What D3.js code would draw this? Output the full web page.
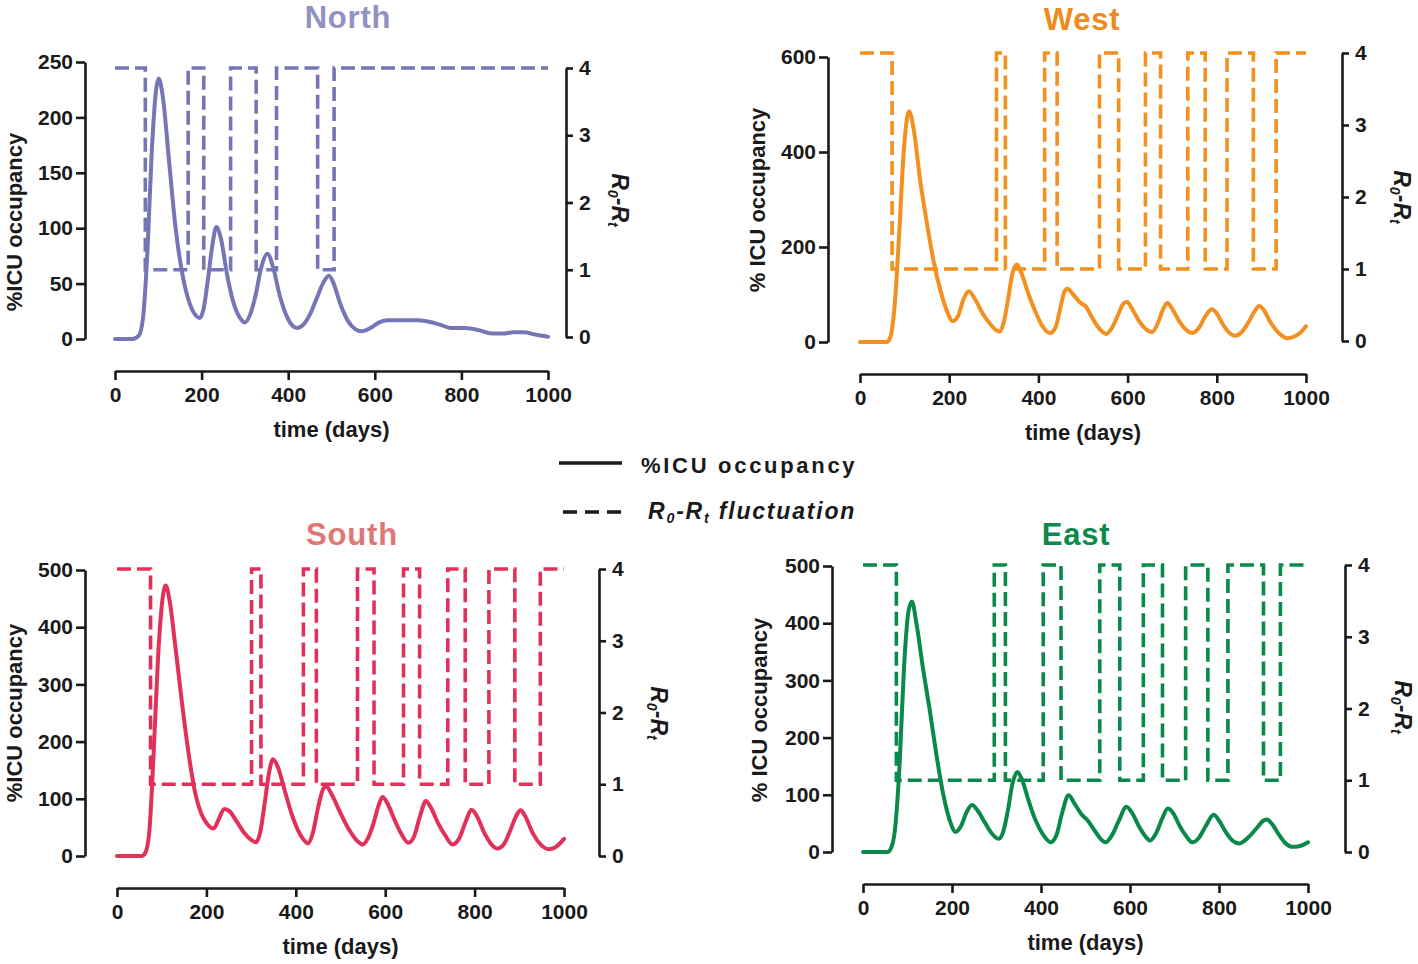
<!DOCTYPE html>
<html>
<head>
<meta charset="utf-8">
<script src="https://cdn.jsdelivr.net/npm/d3@7"></script>
<style>
  html, body { margin: 0; padding: 0; background: #fff; }
  svg { display: block; }
  text { font-family: "Liberation Sans", Arial, Helvetica, sans-serif; font-weight: bold; fill: #1a1a1a; }
</style>
</head>
<body>
<svg id="chart" width="1418" height="964"></svg>
<script>
// ---------------- DATA ----------------
const xTicks = [0, 200, 400, 600, 800, 1000];
const rTicks = [0, 1, 2, 3, 4];

const northTicks = [0, 50, 100, 150, 200, 250];
const westTicks  = [0, 200, 400, 600];
const southTicks = [0, 100, 200, 300, 400, 500];
const eastTicks  = [0, 100, 200, 300, 400, 500];

// %ICU occupancy [day, value]
const northIcu = [[0,0],[40,0],[55,3],[65,20],[75,80],[85,170],[95,225],[101,235],[110,220],[125,160],[140,100],[155,60],[170,35],[185,22],[196,19],[205,28],[215,55],[225,85],[234,101],[245,90],[258,60],[272,35],[287,20],[300,15],[312,22],[325,40],[338,65],[352,77],[365,65],[380,40],[395,22],[410,12],[420,10],[435,13],[450,22],[465,36],[480,50],[494,57],[505,50],[520,32],[540,15],[555,9],[570,7],[590,10],[610,15],[630,17],[660,17],[700,17],[720,16],[750,13],[775,10],[810,10],[840,8],[870,5],[895,5],[920,6],[945,6],[970,4],[1000,2]];
const westIcu = [[0,0],[60,0],[68,10],[78,80],[88,230],[98,400],[110,486],[120,450],[135,340],[150,250],[165,170],[180,110],[195,65],[208,44],[220,55],[232,90],[244,107],[258,90],[275,60],[292,38],[305,25],[313,22],[322,40],[332,90],[342,145],[352,163],[362,145],[378,100],[395,60],[410,32],[426,19],[438,30],[450,75],[458,105],[465,112],[478,100],[495,82],[506,75],[520,52],[535,30],[552,17],[565,30],[580,60],[590,80],[599,84],[610,70],[625,45],[640,28],[655,21],[668,40],[680,70],[689,82],[700,70],[715,45],[730,27],[745,19],[760,30],[775,55],[789,69],[800,60],[815,35],[830,18],[840,13],[855,20],[870,40],[885,65],[895,76],[905,68],[920,42],[940,18],[959,8],[975,12],[990,22],[1000,33]];
const southIcu = [[0,0],[55,0],[63,5],[72,40],[82,180],[92,350],[102,450],[109,473],[118,445],[130,370],[145,270],[160,180],[175,110],[188,75],[200,58],[216,48],[228,65],[240,82],[252,78],[268,60],[285,40],[300,28],[311,24],[320,40],[330,90],[340,145],[349,169],[360,155],[375,115],[390,75],[405,45],[418,28],[427,22],[438,40],[450,85],[460,115],[468,122],[480,108],[500,75],[520,45],[538,26],[550,20],[562,32],[575,60],[585,88],[594,103],[605,92],[620,65],[635,40],[652,23],[665,35],[678,70],[691,96],[702,85],[718,58],[735,35],[751,20],[765,30],[780,60],[793,81],[805,70],[822,40],[838,20],[851,13],[865,20],[880,45],[893,70],[903,80],[913,70],[930,40],[948,20],[965,12],[980,15],[1000,30]];
const eastIcu = [[0,0],[55,0],[62,5],[72,40],[82,150],[92,320],[102,420],[110,438],[120,400],[135,320],[150,248],[165,170],[180,102],[195,55],[208,35],[220,45],[233,70],[245,82],[258,72],[275,50],[290,32],[305,23],[315,35],[325,70],[336,120],[347,140],[358,125],[372,90],[388,55],[405,30],[422,17],[435,30],[448,70],[462,99],[475,85],[490,67],[505,55],[520,38],[535,22],[545,17],[560,30],[575,55],[592,79],[605,68],[620,45],[635,27],[645,20],[660,35],[672,58],[685,76],[697,68],[712,45],[727,27],[740,17],[755,25],[770,45],[788,65],[800,55],[815,35],[830,20],[845,15],[865,25],[885,42],[900,55],[908,57],[918,50],[935,30],[950,15],[965,9],[980,10],[1000,17]];

// R0-Rt switching days (level alternates 4,1,4,1,... starting at day 0)
const northSwitch = [0, 70, 169, 205, 267, 326, 373, 468, 506];
const westSwitch  = [0, 72, 306, 326, 414, 442, 537, 580, 640, 674, 735, 774, 823, 882, 933];
const southSwitch = [0, 75, 301, 322, 417, 446, 538, 575, 641, 677, 740, 779, 832, 890, 947];
const eastSwitch  = [0, 75, 295, 320, 405, 445, 532, 577, 630, 673, 725, 775, 820, 900, 938];
const rLevels = [4, 1];

const regionNames = ["North", "West", "South", "East"];
const yLabels = ["%ICU occupancy", "% ICU occupancy", "%ICU occupancy", "% ICU occupancy"];
const xLabel = "time (days)";
const legendLabels = ["%ICU occupancy", "fluctuation"];

// ---------------- LAYOUT / STYLE ----------------
const panels = [
  { name: regionNames[0], icu: northIcu, sw: northSwitch, ticks: northTicks, yMax: 250, ylab: yLabels[0],
    line: "#7676b6", title: "#9292c2",
    left: 85, right: 566, xAxisY: 371, x0: 115, x1: 548, yTop: 62, yBot: 339, rTop: 68, rBot: 337,
    titleX: 348, titleY: 28, ylabX: 22, ylabY: 222, rlabX: 612, rlabY: 200 },
  { name: regionNames[1], icu: westIcu, sw: westSwitch, ticks: westTicks, yMax: 600, ylab: yLabels[1],
    line: "#f2911f", title: "#ef8a1c",
    left: 828, right: 1342, xAxisY: 374, x0: 860, x1: 1306, yTop: 57, yBot: 342, rTop: 53, rBot: 341,
    titleX: 1082, titleY: 30, ylabX: 765, ylabY: 200, rlabX: 1394, rlabY: 197 },
  { name: regionNames[2], icu: southIcu, sw: southSwitch, ticks: southTicks, yMax: 500, ylab: yLabels[2],
    line: "#e1305a", title: "#e07676",
    left: 85, right: 599, xAxisY: 888, x0: 117, x1: 564, yTop: 570, yBot: 856, rTop: 569, rBot: 856,
    titleX: 352, titleY: 545, ylabX: 22, ylabY: 713, rlabX: 651, rlabY: 713 },
  { name: regionNames[3], icu: eastIcu, sw: eastSwitch, ticks: eastTicks, yMax: 500, ylab: yLabels[3],
    line: "#0a8a4a", title: "#0c8a4b",
    left: 832, right: 1345, xAxisY: 884, x0: 863, x1: 1308, yTop: 566, yBot: 852, rTop: 565, rBot: 852,
    titleX: 1076, titleY: 545, ylabX: 767, ylabY: 710, rlabX: 1395, rlabY: 707 }
];

const svg = d3.select("#chart");
const AX = "#1a1a1a";

function styleAxis(g) {
  g.select(".domain").attr("stroke", AX).attr("stroke-width", 2.6);
  g.selectAll(".tick line").attr("stroke", AX).attr("stroke-width", 2.6);
  g.selectAll(".tick text").attr("font-size", 21).attr("font-weight", "bold").attr("fill", AX)
    .attr("font-family", '"Liberation Sans", Arial, sans-serif');
}

function rLabel(sel, fontSize) {
  sel.append("tspan").text("R");
  sel.append("tspan").text("0").attr("font-size", fontSize * 0.62).attr("dy", 4);
  sel.append("tspan").text("-R").attr("dy", -4);
  sel.append("tspan").text("t").attr("font-size", fontSize * 0.62).attr("dy", 4);
}

panels.forEach(p => {
  const g = svg.append("g");
  const x = d3.scaleLinear().domain([0, 1000]).range([p.x0, p.x1]);
  const y = d3.scaleLinear().domain([0, p.yMax]).range([p.yBot, p.yTop]);
  const yr = d3.scaleLinear().domain([0, 4]).range([p.rBot, p.rTop]);

  // title
  g.append("text").attr("x", p.titleX).attr("y", p.titleY).attr("text-anchor", "middle")
    .attr("font-size", 31).attr("letter-spacing", 0.8).style("fill", p.title).text(p.name);

  // axes
  g.append("g").attr("transform", `translate(${p.left},0)`)
    .call(d3.axisLeft(y).tickValues(p.ticks).tickSize(9).tickSizeOuter(0).tickPadding(3))
    .call(styleAxis);
  g.append("g").attr("transform", `translate(${p.right},0)`)
    .call(d3.axisRight(yr).tickValues(rTicks).tickSize(7).tickSizeOuter(0).tickPadding(6).tickFormat(d3.format("d")))
    .call(styleAxis);
  g.append("g").attr("transform", `translate(0,${p.xAxisY})`)
    .call(d3.axisBottom(x).tickValues(xTicks).tickSize(9).tickSizeOuter(0).tickPadding(7).tickFormat(d3.format("d")))
    .call(styleAxis);

  // axis labels
  g.append("text").attr("x", (p.x0 + p.x1) / 2).attr("y", p.xAxisY + 66).attr("text-anchor", "middle")
    .attr("font-size", 22).text(xLabel);
  g.append("text").attr("transform", `translate(${p.ylabX},${p.ylabY}) rotate(-90)`).attr("text-anchor", "middle")
    .attr("font-size", 22).text(p.ylab);
  const rl = g.append("text").attr("transform", `translate(${p.rlabX},${p.rlabY}) rotate(90)`).attr("text-anchor", "middle")
    .attr("font-size", 23).attr("font-style", "italic");
  rLabel(rl, 23);

  // R0-Rt step line
  const stepData = p.sw.map((t, i) => [t, rLevels[i % 2]]);
  stepData.push([1000, rLevels[(p.sw.length - 1) % 2]]);
  g.append("path").datum(stepData)
    .attr("fill", "none").attr("stroke", p.line).attr("stroke-width", 3.6)
    .attr("stroke-dasharray", "14,6")
    .attr("d", d3.line().x(d => x(d[0])).y(d => yr(d[1])).curve(d3.curveStepAfter));

  // ICU line
  g.append("path").datum(p.icu)
    .attr("fill", "none").attr("stroke", p.line).attr("stroke-width", 4)
    .attr("stroke-linejoin", "round").attr("stroke-linecap", "round")
    .attr("d", d3.line().x(d => x(d[0])).y(d => y(d[1])).curve(d3.curveMonotoneX));
});

// legend
const lg = svg.append("g");
lg.append("line").attr("x1", 559).attr("x2", 622).attr("y1", 463).attr("y2", 463)
  .attr("stroke", AX).attr("stroke-width", 3.4);
lg.append("text").attr("x", 641).attr("y", 473).attr("font-size", 22).attr("letter-spacing", 2.7)
  .text(legendLabels[0]);
lg.append("line").attr("x1", 563).attr("x2", 622).attr("y1", 512).attr("y2", 512)
  .attr("stroke", AX).attr("stroke-width", 3.4).attr("stroke-dasharray", "14,8");
const lt = lg.append("text").attr("x", 648).attr("y", 519).attr("font-size", 23).attr("font-style", "italic")
  .attr("letter-spacing", 1.8);
rLabel(lt, 23);
lt.append("tspan").attr("dy", -4).text(" " + legendLabels[1]);
</script>
</body>
</html>
